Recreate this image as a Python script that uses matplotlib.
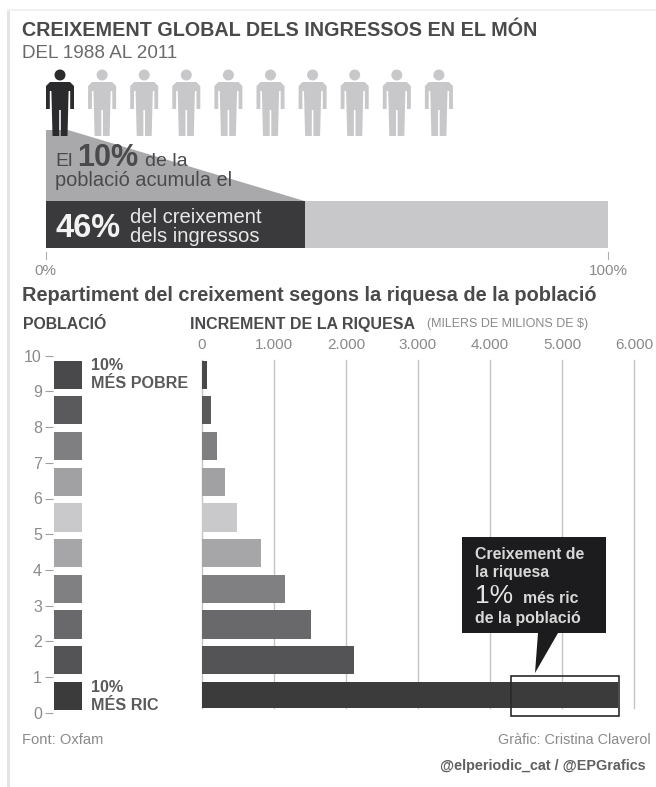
import matplotlib
matplotlib.use("Agg")
import matplotlib.pyplot as plt
from matplotlib.patches import Circle, Polygon, Rectangle

W, H = 656, 787
plt.rcParams["font.family"] = ["Liberation Sans", "DejaVu Sans"]

# data
people = 10
share_people = 10
share_income = 46
population_ticks = [0, 1, 2, 3, 4, 5, 6, 7, 8, 9, 10]
population_rows = [9, 8, 7, 6, 5, 4, 3, 2, 1, 0]
wealth_increase = [70, 125, 205, 320, 490, 815, 1155, 1515, 2110, 5780]
wealth_ticks = [0, 1000, 2000, 3000, 4000, 5000, 6000]
wealth_labels = ["0", "1.000", "2.000", "3.000", "4.000", "5.000", "6.000"]
row_colors = ["#49494b", "#5a5a5c", "#7f7f81", "#a1a1a3", "#c9c9cb",
              "#a6a6a8", "#808082", "#69696b", "#545456", "#3b3b3b"]
DARK = "#3a3a3c"
TEXT = "#4a4a4c"
SOFT = "#8a8a8c"
LIGHT = "#c8c8ca"


def axes_px(left, top, right, bottom, **kw):
    return fig.add_axes([left / W, 1 - bottom / H, (right - left) / W, (bottom - top) / H], **kw)


def person(ax, cx, color):
    ax.add_patch(Circle((cx, 75), 5.5, color=color, lw=0, zorder=4))
    outline = [(-10, 82), (10, 82), (14, 86), (14, 109), (10.2, 109), (10.2, 91), (8.6, 91),
               (7.5, 136), (0.8, 136), (0.8, 110), (-0.8, 110), (-0.8, 136), (-7.5, 136), (-8.6, 91),
               (-10.2, 91), (-10.2, 109), (-14, 109), (-14, 86)]
    ax.add_patch(Polygon([(cx + x, y) for x, y in outline], color=color, lw=0, zorder=4))


fig = plt.figure(figsize=(W / 100, H / 100), dpi=100, facecolor="white")

# page coordinates, used for the artwork around the charts
page = axes_px(0, 0, W, H, zorder=1)
page.set_xlim(0, W)
page.set_ylim(H, 0)
page.axis("off")
page.add_patch(Rectangle((7, 10), 3, H - 10, color="#e4e4e4", lw=0))
page.add_patch(Rectangle((7, 9), W - 7, 2, color="#f1f1f1", lw=0))

# top bar
top = axes_px(46, 201, 608, 248, zorder=2)
top.barh([0], [100], height=1, color=LIGHT)
top.barh([0], [share_income], height=1, color=DARK)
top.set_xlim(0, 100)
top.set_ylim(-0.5, 0.5)
top.axis("off")

split_x = 46 + (608 - 46) * share_income / 100
page.add_patch(Polygon([(46, 130), (68, 130), (split_x, 201), (46, 201)], color="#a9a9ab", lw=0, zorder=2))
for i in range(people):
    person(page, 60 + i * 42.1, "#2b2b2d" if i < share_people / 10 else LIGHT)
for tick_x in (46, 608):
    page.plot([tick_x, tick_x], [252, 259], color="#b0b0b0", lw=0.8)

# population squares
pop = axes_px(53, 355.7, 82, 712.7, zorder=2)
pop.barh([r + 0.47 for r in population_rows], [1] * len(population_rows), height=0.79, color=row_colors)
pop.set_xlim(-0.03, 1)
pop.set_ylim(0, 10)
pop.set_xticks([])
pop.set_yticks(population_ticks)
pop.tick_params(axis="y", length=6, width=0.8, color="#a0a0a0", labelcolor=SOFT, labelsize=11.5, pad=2)
for s in pop.spines.values():
    s.set_visible(False)

# wealth bars
bars = axes_px(202, 360, 634, 708, zorder=2)
y0 = (712.7 - 708) / 35.7
y1 = (712.7 - 360) / 35.7
bars.barh([r + 0.47 for r in population_rows], wealth_increase, height=0.79, color=row_colors, zorder=3)
bars.set_xlim(0, 6000)
bars.set_ylim(y0, y1)
bars.set_yticks([])
bars.set_xticks(wealth_ticks)
bars.set_xticklabels(wealth_labels)
bars.xaxis.tick_top()
bars.tick_params(axis="x", length=0, labelcolor=SOFT, labelsize=11, pad=6)
bars.grid(axis="x", color="#c4c4c4", lw=1, zorder=0, clip_on=False)
bars.set_axisbelow(True)
for s in bars.spines.values():
    s.set_visible(False)

# overlay for text, callout and highlight
over = axes_px(0, 0, W, H, zorder=5)
over.set_xlim(0, W)
over.set_ylim(H, 0)
over.axis("off")


def label(x, y, s, size, color=TEXT, weight="normal", ha="left"):
    over.text(x, y, s, fontsize=size, color=color, fontweight=weight, ha=ha, va="baseline")


label(22, 36, "CREIXEMENT GLOBAL DELS INGRESSOS EN EL MÓN", 14.2, weight="bold")
label(22, 58, "DEL 1988 AL 2011", 13.6, color="#6a6a6c")

label(55, 166, "El", 14)
label(77, 166, "10%", 22, weight="bold")
label(145, 166, "de la", 14)
label(55, 186, "població acumula el", 14.4)

label(56, 237, "46%", 23.5, color="#f2f2f2", weight="bold")
label(130, 223, "del creixement", 14.6, color="#e8e8e8")
label(130, 242, "dels ingressos", 14.6, color="#e8e8e8")
label(45, 275, "0%", 11, color=SOFT, ha="center")
label(608, 275, "100%", 11, color=SOFT, ha="center")

label(22, 301, "Repartiment del creixement segons la riquesa de la població", 14.4, weight="bold")
label(23, 329, "POBLACIÓ", 11.4, weight="bold")
label(190, 329, "INCREMENT DE LA RIQUESA", 11.5, weight="bold")
label(427, 327, "(MILERS DE MILIONS DE $)", 9, color=SOFT)

label(91, 370, "10%", 11.6, weight="bold", color="#5a5a5c")
label(91, 388, "MÉS POBRE", 11.6, weight="bold", color="#5a5a5c")
label(91, 692, "10%", 11.6, weight="bold", color="#5a5a5c")
label(91, 710, "MÉS RIC", 11.6, weight="bold", color="#5a5a5c")

# callout
over.add_patch(Polygon([(462, 537), (606, 537), (606, 633), (558, 633), (535, 673), (538, 633), (462, 633)],
                       color="#1c1c1e", lw=0))
label(475, 559, "Creixement de", 11.4, color="#d8d8d8", weight="bold")
label(475, 577, "la riquesa", 11.4, color="#d8d8d8", weight="bold")
label(475, 603, "1%", 19, color="#e4e4e4")
label(523, 603, "més ric", 11.4, color="#d8d8d8", weight="bold")
label(475, 623, "de la població", 11.4, color="#d8d8d8", weight="bold")
over.add_patch(Rectangle((511, 676), 108, 40, fill=False, ec="#2a2a2a", lw=1.2))

label(22, 744, "Font: Oxfam", 10.6, color=SOFT)
label(651, 744, "Gràfic: Cristina Claverol", 10.35, color=SOFT, ha="right")
label(646, 770, "@elperiodic_cat / @EPGrafics", 10.35, color="#5f5f61", weight="bold", ha="right")

fig.savefig("out.png", dpi=100)
